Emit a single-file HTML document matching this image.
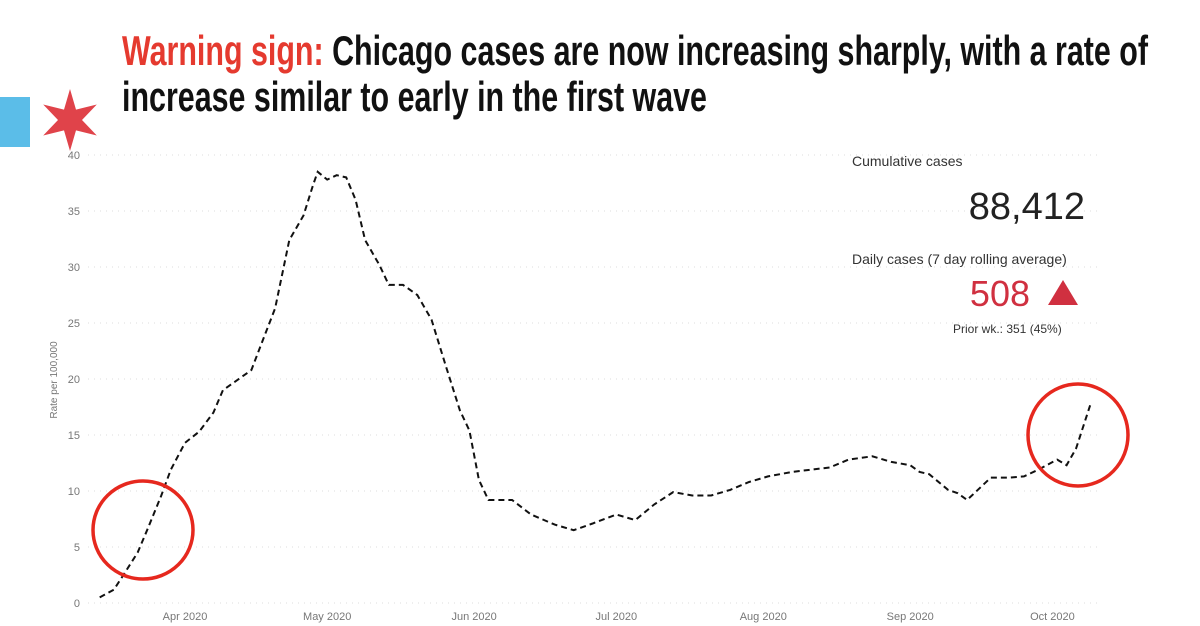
<!DOCTYPE html>
<html><head><meta charset="utf-8"><style>
body{margin:0;width:1200px;height:626px;background:#fff;overflow:hidden;position:relative;font-family:"Liberation Sans",sans-serif}
.title{position:absolute;left:122px;top:28px;font-family:"Liberation Sans Narrow","Liberation Sans",sans-serif;font-weight:bold;font-size:42px;line-height:46px;color:#111;white-space:nowrap;transform-origin:0 0}
.title .w{color:#e53a2f}
.title div{display:inline-block;transform-origin:0 0}
</style></head><body>
<div class="title"><div id="l1"><span class="w">Warning sign:</span> Chicago cases are now increasing sharply, with a rate of</div><br><div id="l2">increase similar to early in the first wave</div></div>
<svg width="1200" height="626" style="position:absolute;left:0;top:0">
<rect x="0" y="97" width="30" height="50" fill="#5bbde8"/>
<polygon id="star" fill="#e0434a"/>
<g id="grid"></g>
<g id="ticks"></g>
<text transform="translate(57,380) rotate(-90)" text-anchor="middle" font-size="10" fill="#777">Rate per 100,000</text>
<path id="line" fill="none" stroke="#111" stroke-width="2" stroke-dasharray="6,4"/>
<ellipse cx="143" cy="530" rx="50" ry="49" fill="none" stroke="#e6281e" stroke-width="3.5"/>
<ellipse cx="1078" cy="435" rx="50" ry="51" fill="none" stroke="#e6281e" stroke-width="3.5"/>
<text x="852" y="166" font-size="14" fill="#333">Cumulative cases</text>
<text x="1085" y="219" font-size="38" fill="#222" text-anchor="end">88,412</text>
<text x="852" y="264" font-size="14" fill="#333">Daily cases (7 day rolling average)</text>
<text x="1030" y="306" font-size="36" fill="#d03040" text-anchor="end">508</text>
<polygon points="1048,305 1078,305 1063,280" fill="#d03040"/>
<text x="953" y="333" font-size="12" fill="#333">Prior wk.: 351 (45%)</text>
</svg>
<script>
const dayOffsets=[-18,-15,-13,-10,-8,-5,-3,0,3,6,8,12,14,16,19,22,25,27,28,30,32,34,36,38,41,43,46,49,52,55,58,60,62,64,69,73,78,82,86,91,95,99,103,107,111,115,119,123,128,132,136,140,145,149,153,155,157,161,163,165,170,174,177,180,184,186,188,191];
const rates=[0.5,1.2,2.5,4.5,6.5,9.6,11.9,14.3,15.3,17,19,20.2,20.8,23,26.3,32.4,34.6,37.3,38.5,37.8,38.2,38,36,32.4,30.2,28.4,28.4,27.5,25.3,21.2,17.2,15.4,11,9.2,9.2,7.9,7,6.5,7.1,7.9,7.4,8.8,9.9,9.6,9.6,10.1,10.8,11.3,11.7,11.9,12.1,12.8,13.1,12.6,12.3,11.7,11.5,10.1,9.8,9.2,11.2,11.2,11.3,11.9,12.8,12.3,13.8,17.7];
const yTicks=[0,5,10,15,20,25,30,35,40];
const xTickDays=[0,30,61,91,122,153,183];
const xTickLabels=["Apr 2020","May 2020","Jun 2020","Jul 2020","Aug 2020","Sep 2020","Oct 2020"];
const ns="http://www.w3.org/2000/svg";
const xs=d=>185+d*4.74, ys=v=>603-v*11.2;
const grid=document.getElementById('grid'),ticks=document.getElementById('ticks');
yTicks.forEach(t=>{
 const l=document.createElementNS(ns,'line');
 l.setAttribute('x1',88);l.setAttribute('x2',1100);l.setAttribute('y1',ys(t));l.setAttribute('y2',ys(t));
 l.setAttribute('stroke','#ddd');l.setAttribute('stroke-dasharray','1,5');
 
 
 grid.appendChild(l);
 const tx=document.createElementNS(ns,'text');
 tx.setAttribute('x',80);tx.setAttribute('y',ys(t)+4);tx.setAttribute('text-anchor','end');tx.setAttribute('font-size','11');tx.setAttribute('fill','#777');
 tx.textContent=t;
 
 
 ticks.appendChild(tx);
});
xTickDays.forEach((d,i)=>{
 const tx=document.createElementNS(ns,'text');
 tx.setAttribute('x',xs(d));tx.setAttribute('y',620);tx.setAttribute('text-anchor','middle');tx.setAttribute('font-size','11');tx.setAttribute('fill','#777');
 tx.textContent=xTickLabels[i];
 
 
 ticks.appendChild(tx);
});
document.getElementById('line').setAttribute('d',dayOffsets.map((d,i)=>(i?'L':'M')+xs(d).toFixed(1)+','+ys(rates[i]).toFixed(1)).join(''));
let pts=[];for(let i=0;i<12;i++){const r=i%2?12:31,a=-Math.PI/2+i*Math.PI/6;pts.push((70+r*Math.cos(a)).toFixed(1)+','+(120+r*Math.sin(a)).toFixed(1));}
document.getElementById('star').setAttribute('points',pts.join(' '));
const l1=document.getElementById('l1'),l2=document.getElementById('l2');
const s=1026/l1.getBoundingClientRect().width;
l1.style.transform='scaleX('+s+')';
l2.style.transform='scaleX('+s+')';
</script>
</body></html>
